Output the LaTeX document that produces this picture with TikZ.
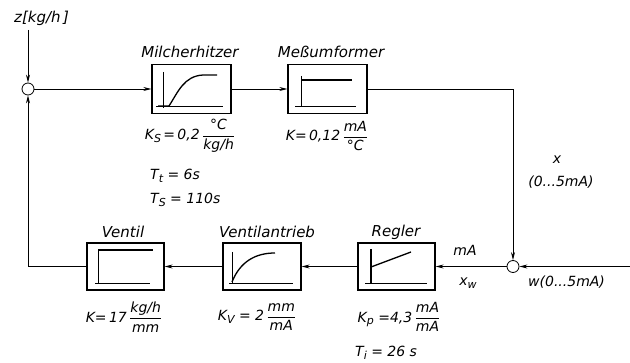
\documentclass[tikz,border=0pt]{standalone}
\usepackage{fontspec}
\setmainfont{DejaVu Sans}
\usetikzlibrary{arrows.meta}
\newcommand{\lsub}[1]{\raisebox{-0.35ex}{\fontsize{11}{11}\selectfont #1}}
\newcommand{\lfr}[2]{$\displaystyle\frac{\mbox{#1}}{\mbox{#2}}$}
\tikzset{
  blk/.style={draw, line width=1.3pt, inner sep=0pt},
  sumc/.style={circle, draw, line width=0.8pt, minimum size=12pt, inner sep=0pt},
  ttl/.style={font=\fontsize{15}{17}\selectfont\itshape, inner sep=0pt},
  lab/.style={font=\fontsize{14}{16}\selectfont\itshape, inner sep=0pt},
  conn/.style={line width=0.8pt},
  arr/.style={-{Stealth[length=8pt,width=4pt]}},
  icon/.style={line width=0.9pt},
  curve/.style={line width=1.3pt}
}
\begin{document}
\begin{tikzpicture}[x=1pt,y=-1pt]
\useasboundingbox (0,0) rectangle (630,363);
% blocks
\node[blk, minimum width=79pt, minimum height=49pt] (mh) at (191.5,89) {};
\node[blk, minimum width=79pt, minimum height=49pt] (ms) at (327.5,89) {};
\node[blk, minimum width=77pt, minimum height=47pt] (ve) at (125.5,266.5) {};
\node[blk, minimum width=78pt, minimum height=47pt] (va) at (262,266.5) {};
\node[blk, minimum width=77pt, minimum height=47pt] (rg) at (396.5,266.5) {};
% summing points
\node[sumc] (s1) at (28,89) {};
\node[sumc] (s2) at (513,266.5) {};
\coordinate (z) at (28,30);
\coordinate (w) at (630,266.5);
% titles
\node[ttl] (tmh) at (190,52) {Milcherhitzer};
\node[ttl] (tms) at (331,52) {Meßumformer};
\node[ttl] (tve) at (123,232) {Ventil};
\node[ttl] (tva) at (267,232) {Ventilantrieb};
\node[ttl] (trg) at (396,232) {Regler};
\node[ttl, anchor=west] (tz) at (14,18) {z[kg/h\,]};
% parameters
\node[lab] (pmh) at (190,136) {K\lsub{S}\,=\,0,2\,\lfr{°C}{kg/h}};
\node[lab, anchor=west] (ptt) at (150,176) {T\lsub{t} = 6s};
\node[lab, anchor=west] (pts) at (150,200) {T\lsub{S} = 110s};
\node[lab] (pms) at (327,136) {K=\,0,12\,\lfr{mA}{°C}};
\node[lab] (pve) at (124,317) {K=\,17\,\lfr{kg/h}{mm}};
\node[lab] (pva) at (257,317) {K\lsub{V} = 2\,\lfr{mm}{mA}};
\node[lab] (prg) at (399,317) {K\lsub{p} =4,3\,\lfr{mA}{mA}};
\node[lab, anchor=west] (pti) at (355,353) {T\lsub{i} = 26 s};
\node[lab] (lx) at (557,160) {x};
\node[lab] (lxr) at (561,182) {(0...5mA)};
\node[lab] (lma) at (465,250) {mA};
\node[lab] (lxw) at (468,283) {x\lsub{w}};
\node[lab, anchor=west] (lw) at (528,282) {w(0...5mA)};
% connectors
\draw[conn,arr] (z) -- (s1);
\draw[conn,arr] (s1) -- (mh);
\draw[conn,arr] (mh) -- (ms);
\draw[conn,arr] (ms.east) -| (s2);
\draw[conn,arr] (w) -- (s2);
\draw[conn,arr] (s2) -- (rg);
\draw[conn,arr] (rg) -- (va);
\draw[conn,arr] (va) -- (ve);
\draw[conn,arr] (ve.west) -| (s1);
% icons: Milcherhitzer
\draw[icon] (163,72) -- (163,108);
\draw[icon] (156,106) -- (223,106);
\draw[curve] (158,106) -- (169,106) .. controls (178,92) and (184,76) .. (203,75) -- (217,75);
% Messumformer
\draw[icon] (301,76) -- (301,107);
\draw[curve] (301,80) -- (352,80);
\draw[icon] (295,106) -- (356,106);
% Ventil
\draw[icon] (98,250) -- (98,284);
\draw[curve] (98,250) -- (153,250);
\draw[icon] (95,283) -- (150,283);
% Ventilantrieb
\draw[icon] (232,252) -- (232,283);
\draw[icon] (229,283) -- (293,283);
\draw[curve] (232,282) .. controls (240,262) and (255,253) .. (275,253);
% Regler
\draw[icon] (365,283) -- (427,283);
\draw[curve] (371,249) -- (371,283);
\draw[curve] (371,267) -- (411,252);
\end{tikzpicture}
\end{document}
